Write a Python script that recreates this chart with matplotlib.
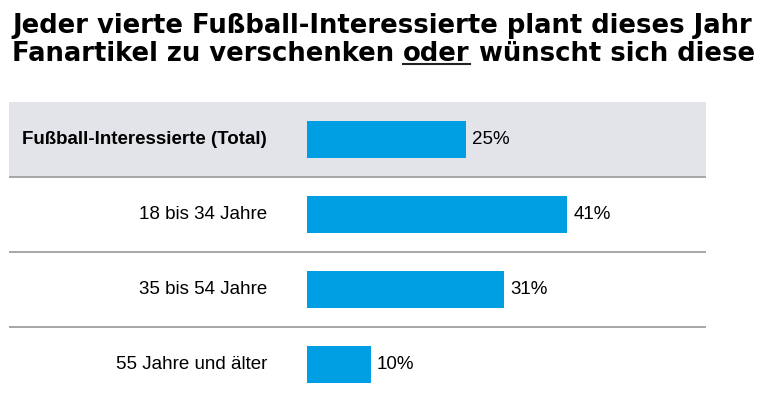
import matplotlib
matplotlib.use("Agg")
import matplotlib.pyplot as plt
from matplotlib.transforms import offset_copy
from matplotlib.lines import Line2D

# Daten aus der Grafik
categories = ["Fußball-Interessierte (Total)", "18 bis 34 Jahre",
              "35 bis 54 Jahre", "55 Jahre und älter"]
values = [25, 41, 31, 10]
value_labels = ["25%", "41%", "31%", "10%"]

title_line1 = "Jeder vierte Fußball-Interessierte plant dieses Jahr"
title_line2 = ["Fanartikel zu verschenken ", "oder", " wünscht sich diese"]

BLUE = "#009FE3"
BAND = "#E2E4E9"
RULE = "#A6A6A6"


def main():
    W, H = 768, 396
    fig = plt.figure(figsize=(W / 100, H / 100), dpi=100)
    plt.rcParams['font.family'] = ['Liberation Sans', 'DejaVu Sans']

    # Achse: links 9px, rechts 706px, oben 102px
    px_per_pct = 6.35
    x0 = 307
    ax = fig.add_axes([9 / W, 0, (706 - 9) / W, (H - 102) / H])
    ax.set_xlim((9 - x0) / px_per_pct, (706 - x0) / px_per_pct)
    ax.set_ylim(-0.5 + (H - 102) / 75, -0.5)
    ax.axis('off')

    # grauer Hintergrund für die erste Zeile und Trennlinien
    ax.axhspan(-0.5, 0.5, color=BAND, zorder=0, lw=0)
    for i in range(len(categories) - 1):
        ax.axhline(i + 0.5, color=RULE, lw=1.4, zorder=1)

    ypos = list(range(len(categories)))
    ax.barh(ypos, values, height=0.5, color=BLUE, zorder=2)

    lab_tr = offset_copy(ax.transData, fig=fig, x=-40, y=0, units='dots')
    val_tr = offset_copy(ax.transData, fig=fig, x=6, y=0, units='dots')
    for i, (cat, v, vl) in enumerate(zip(categories, values, value_labels)):
        ax.text(0, i, cat, transform=lab_tr, ha='right', va='center',
                fontsize=13.5, fontweight='bold' if i == 0 else 'normal',
                color='black')
        ax.text(v, i, vl, transform=val_tr, ha='left', va='center',
                fontsize=13.5, color='black')

    # Titel, zweite Zeile mit unterstrichenem "oder"
    tkw = dict(fontsize=18.6, fontweight='bold', family=['DejaVu Sans'],
               color='black', va='baseline', ha='left')
    fig.text(12 / W, 1 - 33 / H, title_line1, **tkw)
    renderer = fig.canvas.get_renderer()
    xpx = 12
    for j, part in enumerate(title_line2):
        t = fig.text(xpx / W, 1 - 61 / H, part, **tkw)
        bb = t.get_window_extent(renderer=renderer)
        if j == 1:
            fig.add_artist(Line2D([bb.x0 / W, bb.x1 / W],
                                  [1 - 64 / H, 1 - 64 / H],
                                  color='#222222', lw=1.5))
        xpx = bb.x1

    fig.savefig("out.png", dpi=100)


if __name__ == "__main__":
    main()
